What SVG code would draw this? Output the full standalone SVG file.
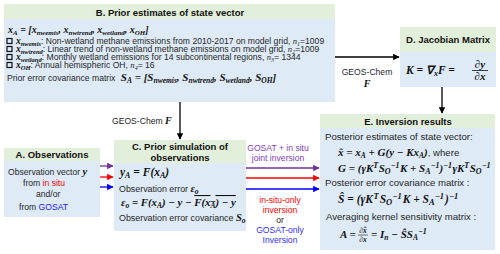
<svg xmlns="http://www.w3.org/2000/svg" width="500" height="254" viewBox="0 0 500 254">
<style>
svg{font-family:"Liberation Sans",Arial,sans-serif;font-size:8.6px;fill:#262626}
.hdr{fill:#e2efda}
.bd{fill:#deebf7}
.h{font-weight:bold;font-size:9.5px;fill:#111;text-anchor:middle}
.m{font-family:"Liberation Serif","Times New Roman",serif;font-weight:bold;font-style:italic;fill:#111}
.mi{font-family:"Liberation Serif","Times New Roman",serif;font-style:italic}
.c{text-anchor:middle}
.et{font-size:9.6px}
.ln{fill:none;stroke-width:1.3}
</style>
<defs>
<marker id="ak" viewBox="0 0 10 10" refX="9" refY="5" markerWidth="5" markerHeight="5" orient="auto"><path d="M0,0L10,5L0,10z" fill="#000"/></marker>
<marker id="ap" viewBox="0 0 10 10" refX="9" refY="5" markerWidth="5" markerHeight="5" orient="auto"><path d="M0,0L10,5L0,10z" fill="#7030a0"/></marker>
<marker id="ar" viewBox="0 0 10 10" refX="9" refY="5" markerWidth="5" markerHeight="5" orient="auto"><path d="M0,0L10,5L0,10z" fill="#ff0000"/></marker>
<marker id="ab" viewBox="0 0 10 10" refX="9" refY="5" markerWidth="5" markerHeight="5" orient="auto"><path d="M0,0L10,5L0,10z" fill="#0000ff"/></marker>
</defs>

<g id="nodeB">
<rect class="bd" x="4" y="19" width="331" height="83"/>
<rect class="hdr" x="4" y="4" width="331" height="15"/>
<text class="h" x="170" y="15.5">B. Prior estimates of state vector</text>
<text class="m" x="8" y="33" font-size="10">x<tspan dy="2" font-size="7">A</tspan><tspan dy="-2"> = [x</tspan><tspan dy="2" font-size="7">nwemis</tspan><tspan dy="-2">, x</tspan><tspan dy="2" font-size="7">nwtrend</tspan><tspan dy="-2">, x</tspan><tspan dy="2" font-size="7">wetland</tspan><tspan dy="-2">, x</tspan><tspan dy="2" font-size="7">OH</tspan><tspan dy="-2">]</tspan></text>
<g fill="none" stroke="#111" stroke-width="1.2">
<rect x="7" y="38.5" width="5" height="5"/>
<rect x="7" y="46.5" width="5" height="5"/>
<rect x="7" y="54.5" width="5" height="5"/>
<rect x="7" y="62.5" width="5" height="5"/>
</g>
<text x="16" y="44"><tspan class="m" font-size="9.5">x</tspan><tspan class="m" font-size="6.5" dy="1.5">nwemis</tspan><tspan dy="-1.5">: Non-wetland methane emissions from 2010-2017 on model grid, </tspan><tspan class="mi">n</tspan><tspan class="mi" font-size="6" dy="1.5">1</tspan><tspan dy="-1.5">=1009</tspan></text>
<text x="16" y="52"><tspan class="m" font-size="9.5">x</tspan><tspan class="m" font-size="6.5" dy="1.5">nwtrend</tspan><tspan dy="-1.5">: Linear trend of non-wetland methane emissions on model grid, </tspan><tspan class="mi">n</tspan><tspan class="mi" font-size="6" dy="1.5">2</tspan><tspan dy="-1.5">=1009</tspan></text>
<text x="16" y="60"><tspan class="m" font-size="9.5">x</tspan><tspan class="m" font-size="6.5" dy="1.5">wetland</tspan><tspan dy="-1.5">: Monthly wetland emissions for 14 subcontinental regions, </tspan><tspan class="mi">n</tspan><tspan class="mi" font-size="6" dy="1.5">3</tspan><tspan dy="-1.5">= 1344</tspan></text>
<text x="16" y="68"><tspan class="m" font-size="9.5">x</tspan><tspan class="m" font-size="6.5" dy="1.5">OH</tspan><tspan dy="-1.5">: Annual hemispheric OH, </tspan><tspan class="mi">n</tspan><tspan class="mi" font-size="6" dy="1.5">4</tspan><tspan dy="-1.5">= 16</tspan></text>
<text x="7" y="81">Prior error covariance matrix <tspan class="m" font-size="11" dx="3">S</tspan><tspan class="m" font-size="7.5" dy="2">A</tspan><tspan class="m" font-size="11" dy="-2"> = [S</tspan><tspan class="m" font-size="7.5" dy="2">nwemis</tspan><tspan class="m" font-size="11" dy="-2">, S</tspan><tspan class="m" font-size="7.5" dy="2">nwtrend</tspan><tspan class="m" font-size="11" dy="-2">, S</tspan><tspan class="m" font-size="7.5" dy="2">wetland</tspan><tspan class="m" font-size="11" dy="-2">, S</tspan><tspan class="m" font-size="7.5" dy="2">OH</tspan><tspan class="m" font-size="11" dy="-2">]</tspan></text>
</g>

<g id="nodeD">
<rect class="bd" x="400" y="52" width="96" height="35"/>
<rect class="hdr" x="400" y="27" width="96" height="25"/>
<text class="h" x="448" y="43">D. Jacobian Matrix</text>
<text class="m" x="406" y="74" font-size="11.5">K =  ∇<tspan font-size="8" dy="2">x</tspan><tspan dy="-2">F =</tspan></text>
<text class="m c" x="480" y="67.5" font-size="11">∂y</text>
<line x1="472" y1="70.5" x2="488" y2="70.5" stroke="#111" stroke-width="0.8"/>
<text class="m c" x="480" y="80" font-size="11">∂x</text>
</g>

<g id="nodeE">
<rect class="bd" x="320" y="128" width="175" height="122"/>
<rect class="hdr" x="320" y="114" width="175" height="14"/>
<text class="h" x="408" y="124.5">E. Inversion results</text>
<text class="et" x="325" y="139.5">Posterior estimates of state vector:</text>
<text class="m" x="338" y="155.5" font-size="11">x̂ = x<tspan font-size="7.5" dy="2">A</tspan><tspan dy="-2"> + G(y − Kx</tspan><tspan font-size="7.5" dy="2">A</tspan><tspan dy="-2">)</tspan><tspan font-family="Liberation Sans,Arial,sans-serif" font-weight="normal" font-style="normal" font-size="9.6" fill="#262626">, where</tspan></text>
<text class="m" x="338" y="172" font-size="11">G = (γK<tspan font-size="8" dy="-4.5">T</tspan><tspan dy="4.5" dx="0.5">S</tspan><tspan font-size="8" dy="2">O</tspan><tspan font-size="8" dy="-6.5">−1</tspan><tspan dy="4.5" dx="0.5">K + S</tspan><tspan font-size="8" dy="2">A</tspan><tspan font-size="8" dy="-6.5">−1</tspan><tspan dy="4.5">)</tspan><tspan font-size="8" dy="-4.5">−1</tspan><tspan dy="4.5" dx="0.5">γK</tspan><tspan font-size="8" dy="-4.5">T</tspan><tspan dy="4.5" dx="0.5">S</tspan><tspan font-size="8" dy="2">O</tspan><tspan font-size="8" dy="-6.5">−1</tspan></text>
<text class="et" x="325" y="186">Posterior error covariance matrix :</text>
<text class="m" x="338" y="203" font-size="11.5">Ŝ = (γK<tspan font-size="8.5" dy="-4.5" dx="0.5">T</tspan><tspan dy="4.5" dx="1">S</tspan><tspan font-size="8.5" dy="2">O</tspan><tspan font-size="8.5" dy="-6.5">−1</tspan><tspan dy="4.5" dx="1">K + S</tspan><tspan font-size="8.5" dy="2">A</tspan><tspan font-size="8.5" dy="-6.5">−1</tspan><tspan dy="4.5" dx="1">)</tspan><tspan font-size="8.5" dy="-4.5">−1</tspan></text>
<text class="et" x="326" y="220">Averaging kernel sensitivity matrix :</text>
<text class="m" x="340" y="238" font-size="11">A =</text>
<text class="m c" x="363" y="233" font-size="7.5">∂x̂</text>
<line x1="358" y1="235" x2="368" y2="235" stroke="#111" stroke-width="0.6"/>
<text class="m c" x="363" y="242" font-size="7.5">∂x</text>
<text class="m" x="371" y="238" font-size="11">=  I<tspan font-size="7.5" dy="2">n</tspan><tspan dy="-2"> − ŜS</tspan><tspan font-size="7.5" dy="2">A</tspan><tspan font-size="8" dy="-6.5">−1</tspan></text>
</g>

<g id="nodeA">
<rect class="bd" x="4" y="161" width="96" height="56"/>
<rect class="hdr" x="4" y="148" width="96" height="13"/>
<text class="h" x="52" y="158">A. Observations</text>
<text x="8" y="175">Observation vector <tspan class="m" font-size="10.5">y</tspan></text>
<text x="23" y="185.5">from <tspan fill="#ff0000">in situ</tspan></text>
<text x="36" y="197">and/or</text>
<text x="19" y="210">from <tspan fill="#2020ff">GOSAT</tspan></text>
</g>

<g id="nodeC">
<rect class="bd" x="114" y="163" width="132" height="68"/>
<rect class="hdr" x="114" y="140" width="132" height="23"/>
<text class="h" x="180" y="150">C. Prior simulation of</text>
<text class="h" x="180" y="161">observations</text>
<text class="m" x="120" y="175.5" font-size="11.5">y<tspan font-size="8" dy="2">A</tspan><tspan dy="-2"> = F(x</tspan><tspan font-size="8" dy="2">A</tspan><tspan dy="-2">)</tspan></text>
<text x="119" y="191.5" font-size="8.9">Observation error <tspan class="m" font-size="10.5">ε</tspan><tspan class="m" font-size="7.5" dy="2">o</tspan></text>
<text class="m" x="121" y="206" font-size="10.8">ε<tspan font-size="7.5" dy="2">o</tspan><tspan dy="-2"> = F(x</tspan><tspan font-size="7.5" dy="2">A</tspan><tspan dy="-2">) − y − </tspan><tspan text-decoration="overline">F(x<tspan font-size="7.5" dy="2">A</tspan><tspan dy="-2">) − y</tspan></tspan></text>
<text x="119" y="221" font-size="8.9">Observation error covariance <tspan class="m" font-size="10.5">S</tspan><tspan class="m" font-size="7.5" dy="2">o</tspan></text>
</g>

<g id="labels">
<text x="367" y="75" class="c">GEOS-Chem</text>
<text x="367" y="87" class="m c" font-size="10">F</text>
<text x="112" y="124">GEOS-Chem <tspan class="m" font-size="10">F</tspan></text>
<text x="278" y="151" class="c" fill="#8040c0">GOSAT + in situ</text>
<text x="278" y="161" class="c" fill="#8040c0">joint inversion</text>
<text x="280" y="203" class="c" fill="#ff0000">in-situ-only</text>
<text x="280" y="213" class="c" fill="#ff0000">inversion</text>
<text x="280" y="223" class="c">or</text>
<text x="280" y="233" class="c" fill="#3030ff">GOSAT-only</text>
<text x="280" y="243" class="c" fill="#3030ff">Inversion</text>
</g>

<g id="connectors">
<line class="ln" x1="335" y1="57" x2="399" y2="57" stroke="#000" marker-end="url(#ak)"/>
<line class="ln" x1="442" y1="87" x2="442" y2="113" stroke="#000" marker-end="url(#ak)"/>
<line class="ln" x1="180" y1="102" x2="180" y2="139" stroke="#000" marker-end="url(#ak)"/>
<line class="ln" x1="100" y1="166" x2="113" y2="166" stroke="#7030a0" marker-end="url(#ap)"/>
<line class="ln" x1="100" y1="177" x2="113" y2="177" stroke="#ff0000" marker-end="url(#ar)"/>
<line class="ln" x1="100" y1="187" x2="113" y2="187" stroke="#0000ff" marker-end="url(#ab)"/>
<line class="ln" x1="246" y1="168" x2="319" y2="168" stroke="#7030a0" marker-end="url(#ap)"/>
<line class="ln" x1="246" y1="178" x2="319" y2="178" stroke="#ff0000" marker-end="url(#ar)"/>
<line class="ln" x1="246" y1="189" x2="319" y2="189" stroke="#0000ff" marker-end="url(#ab)"/>
</g>
</svg>
